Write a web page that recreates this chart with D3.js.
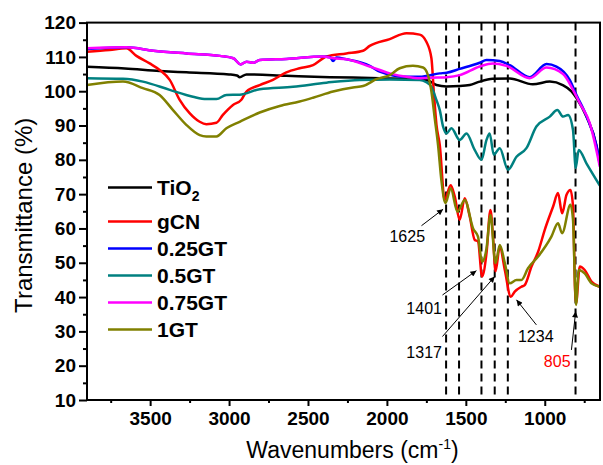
<!DOCTYPE html>
<html>
<head>
<meta charset="utf-8">
<script src="https://cdn.jsdelivr.net/npm/d3@7"></script>
<style>
  body { margin: 0; background: #fff; }
  svg { display: block; font-family: "Liberation Sans", Arial, sans-serif; }
</style>
</head>
<body>
<svg id="ftir_chart" width="603" height="465"></svg>
<script>
//  data : [wavenumber (cm-1), transmittance (%)]
const series_names = ["TiO2", "gCN", "0.25GT", "0.5GT", "0.75GT", "1GT"];
const series_colors = ["#000000", "#ff0000", "#0000ff", "#008080", "#ff00ff", "#808000"];

const tio2 = [[3900,107.1],[3660,106.6],[3440,105.9],[3270,105.5],[3000,104.9],[2950,104.6],[2933,104.1],[2890,104.9],[2637,104.5],
  [2360,104.1],[2046,103.8],[1750,103.3],[1686,101.8],[1623,101.4],[1539,101.5],[1475,101.8],[1412,102.8],[1330,103.6],[1222,103.7],
  [1076,102.0],[968,102.8],[886,101.8],[829,99.9],[799,98.0],[736,92.6],[672,84.0],[651,78.5]];

const gcn = [[3900,111.5],[3757,112.0],[3651,112.5],[3587,110.3],[3503,108.1],[3440,106.2],[3376,103.3],[3313,97.5],[3250,93.6],
  [3186,91.1],[3144,90.4],[3080,90.8],[3039,93.1],[2975,96.0],[2922,97.5],[2890,99.9],[2806,101.8],[2722,103.3],[2637,105.5],
  [2553,106.7],[2468,107.6],[2383,110.1],[2257,111.0],[2151,111.8],[2109,113.2],[1982,115.2],[1876,116.9],[1792,116.5],[1750,114.4],
  [1718,109.6],[1703,99.9],[1686,90.2],[1665,84.3],[1634,68.3],[1596,72.6],[1570,69.3],[1539,62.5],[1507,68.8],[1475,63.4],
  [1444,56.7],[1423,56.2],[1397,46.0],[1369,52.8],[1344,65.4],[1328,57.7],[1312,47.5],[1285,54.7],[1253,47.9],[1215,40.1],
  [1190,41.6],[1148,43.0],[1127,43.5],[1084,48.9],[1042,53.2],[1000,59.6],[947,66.4],[916,70.3],[890,64.4],[862,69.8],[837,71.2],
  [821,66.4],[808,42.1],[802,38.2],[778,48.9],[747,47.9],[704,44.5],[651,43.0]];

const gt025 = [[3900,112.3],[3649,112.8],[3480,111.8],[3269,111.0],[3058,110.3],[2973,109.6],[2927,107.8],[2889,108.6],[2846,108.3],
  [2806,109.1],[2637,109.4],[2405,110.1],[2360,109.9],[2341,108.8],[2320,109.8],[2257,109.3],[2109,107.4],[2046,105.7],[1876,104.2],
  [1792,104.2],[1665,105.2],[1621,105.4],[1539,106.5],[1412,108.3],[1369,109.1],[1285,108.8],[1222,107.6],[1095,104.1],[989,107.9],
  [926,107.2],[842,103.3],[799,98.9],[736,92.8],[672,84.0],[651,79.0]];

const gt05 = [[3900,103.8],[3672,103.6],[3546,102.8],[3376,100.4],[3229,98.4],[3144,97.7],[3080,97.7],[3017,98.9],[2933,99.0],
  [2806,100.6],[2595,101.3],[2383,102.5],[2172,103.3],[1982,103.4],[1792,103.3],[1750,102.6],[1718,101.3],[1686,97.4],[1665,94.5],
  [1644,89.7],[1623,87.7],[1591,89.2],[1539,85.8],[1496,87.7],[1444,82.9],[1401,80.0],[1369,85.8],[1349,87.7],[1323,81.5],
  [1285,83.4],[1233,77.1],[1179,80.9],[1116,83.4],[1053,89.7],[968,92.6],[920,94.5],[884,92.6],[852,93.1],[821,88.7],[804,77.6],
  [785,82.9],[736,79.0],[651,72.5]];

const gt075 = [[3900,112.5],[3649,112.8],[3480,111.8],[3269,111.0],[3058,110.3],[2973,109.6],[2927,107.8],[2889,108.6],[2846,108.3],
  [2806,109.1],[2637,109.4],[2405,110.1],[2341,109.6],[2257,109.3],[2109,107.2],[1982,105.2],[1876,104.2],[1792,103.8],[1665,104.0],
  [1623,104.1],[1539,104.7],[1412,107.2],[1330,108.1],[1243,107.4],[1095,103.8],[989,106.9],[884,105.0],[821,100.4],[778,96.5],
  [715,90.7],[651,78.0]];

const gt1 = [[3900,101.8],[3672,102.8],[3546,100.9],[3440,98.9],[3355,94.5],[3271,90.2],[3186,87.2],[3144,86.8],[3080,86.8],
  [3017,89.2],[2933,91.1],[2806,93.8],[2679,95.7],[2553,97.0],[2468,98.1],[2341,99.9],[2215,101.1],[2151,101.5],[2067,103.5],
  [1982,104.7],[1919,106.7],[1835,107.4],[1771,106.9],[1740,104.7],[1718,99.9],[1697,92.1],[1676,84.3],[1655,74.1],[1629,67.4],
  [1596,71.7],[1553,64.9],[1507,68.3],[1454,60.0],[1423,57.6],[1397,50.3],[1369,54.2],[1344,63.9],[1312,49.9],[1285,55.2],
  [1253,49.9],[1222,44.0],[1179,45.0],[1148,45.0],[1106,48.4],[1042,51.8],[958,57.6],[916,61.5],[890,58.6],[837,66.9],[821,62.5],
  [808,43.0],[802,37.7],[785,47.9],[747,46.9],[704,44.0],[651,43.0]];

const series_data = [tio2, gcn, gt025, gt05, gt075, gt1];

//  dashed marker lines and peak labels
const peak_lines = [1625, 1543, 1401, 1317, 1234, 805];
const peak_labels = ["1625", "1401", "1317", "1234", "805"];
const label_pos = [[1871,56.1],[1764,35.2],[1764,22.3],[1057,27.0],[921,19.6]];
const arrow_from = [[1781,60.8],[1648,40.6],[1648,28.5],[1053,31.9],[831,24.6]];
const arrow_to = [[1644,65.6],[1433,47.7],[1317,46.0],[1179,39.2],[804,35.8]];
const label_colors = ["#000", "#000", "#000", "#000", "#ff0000"];

const x_ticks = [3500, 3000, 2500, 2000, 1500, 1000];
const x_minor = [3750, 3250, 2750, 2250, 1750, 1250, 750];
const y_ticks = [10, 20, 30, 40, 50, 60, 70, 80, 90, 100, 110, 120];
const y_minor = [15, 25, 35, 45, 55, 65, 75, 85, 95, 105, 115];

//  draw
function draw_ftir_chart() {
  const margin = ({top: 22.6, right: 3, bottom: 65, left: 87});
  const svg = d3.select("#ftir_chart");
  svg.selectAll('*').remove();

  const w = 603, h = 465;
  const x = d3.scaleLinear().domain([3900, 650]).range([margin.left, w - margin.right]);
  const y = d3.scaleLinear().domain([10, 120]).range([h - margin.bottom, margin.top]);

  svg.append("defs").append("marker")
      .attr("id", "arrow_head")
      .attr("viewBox", "0 0 10 10")
      .attr("refX", 10).attr("refY", 5)
      .attr("markerWidth", 8).attr("markerHeight", 6)
      .attr("markerUnits", "userSpaceOnUse")
      .attr("orient", "auto")
    .append("path")
      .attr("d", "M0,0L10,5L0,10Z")
      .attr("fill", "#000");

  //  dashed lines
  svg.append("g").selectAll("line")
    .data(peak_lines)
    .join("line")
      .attr("x1", d => x(d)).attr("x2", d => x(d))
      .attr("y1", y(120)).attr("y2", y(10))
      .attr("stroke", "#000")
      .attr("stroke-width", 2)
      .attr("stroke-dasharray", "8,5");

  //  spectra
  const line = d3.line()
    .x(d => x(d[0]))
    .y(d => y(d[1]))
    .curve(d3.curveMonotoneX);

  svg.append("g").selectAll("path")
    .data(series_data)
    .join("path")
      .attr("fill", "none")
      .attr("stroke", (d, i) => series_colors[i])
      .attr("stroke-width", 2.5)
      .attr("stroke-linejoin", "round")
      .attr("d", line);

  //  frame
  svg.append("rect")
      .attr("x", x(3900)).attr("y", y(120))
      .attr("width", x(650) - x(3900)).attr("height", y(10) - y(120))
      .attr("fill", "none")
      .attr("stroke", "#000")
      .attr("stroke-width", 2);

  //  axes
  const xAxis = g => g
    .attr("transform", `translate(0,${y(10)})`)
    .call(d3.axisBottom(x).tickValues(x_ticks).tickSize(6).tickPadding(6).tickFormat(d3.format("d")));
  const xMinor = g => g
    .attr("transform", `translate(0,${y(10)})`)
    .call(d3.axisBottom(x).tickValues(x_minor).tickSize(3).tickFormat(""));
  const yAxis = g => g
    .attr("transform", `translate(${x(3900)},0)`)
    .call(d3.axisLeft(y).tickValues(y_ticks).tickSize(8).tickPadding(3));
  const yMinor = g => g
    .attr("transform", `translate(${x(3900)},0)`)
    .call(d3.axisLeft(y).tickValues(y_minor).tickSize(4).tickFormat(""));

  [xAxis, xMinor, yAxis, yMinor].forEach(ax => {
    const g = svg.append("g").call(ax);
    g.select(".domain").remove();
    g.selectAll(".tick line").attr("stroke", "#000").attr("stroke-width", 2);
    g.selectAll("text")
      .attr("fill", "#000")
      .style("font-family", "'Liberation Sans', Arial, sans-serif")
      .style("font-weight", "bold")
      .style("font-size", "19px");
  });

  //  axis titles
  svg.append("text")
      .attr("transform", `translate(32,${(y(120) + y(10)) / 2 + 4}) rotate(-90)`)
      .attr("text-anchor", "middle")
      .style("font-size", "24px")
      .text("Transmittance (%)");

  const xt = svg.append("text")
      .attr("x", (x(3900) + x(650)) / 2 + 9)
      .attr("y", 458)
      .attr("text-anchor", "middle")
      .style("font-size", "23px");
  xt.append("tspan").text("Wavenumbers (cm");
  xt.append("tspan").attr("dy", -9).style("font-size", "14px").text("-1");
  xt.append("tspan").attr("dy", 9).text(")");

  //  annotations
  const ann = svg.append("g");
  ann.selectAll("line")
    .data(arrow_from)
    .join("line")
      .attr("x1", d => x(d[0])).attr("y1", d => y(d[1]))
      .attr("x2", (d, i) => x(arrow_to[i][0])).attr("y2", (d, i) => y(arrow_to[i][1]))
      .attr("stroke", "#000")
      .attr("stroke-width", 1)
      .attr("marker-end", "url(#arrow_head)");
  ann.selectAll("text")
    .data(peak_labels)
    .join("text")
      .attr("x", (d, i) => x(label_pos[i][0]))
      .attr("y", (d, i) => y(label_pos[i][1]))
      .attr("text-anchor", "middle")
      .attr("fill", (d, i) => label_colors[i])
      .style("font-size", "16px")
      .text(d => d);

  //  legend
  const legend_y = [187.5, 221.5, 248.5, 275.5, 302.5, 329.5];
  const lg = svg.append("g").selectAll("g")
    .data(series_names)
    .join("g")
      .attr("transform", (d, i) => `translate(108,${legend_y[i]})`);
  lg.append("line")
      .attr("x1", 0).attr("x2", 44)
      .attr("stroke", (d, i) => series_colors[i])
      .attr("stroke-width", 2.5);
  const lt = lg.append("text")
      .attr("x", 49)
      .attr("y", 7.5)
      .style("font-size", "21px")
      .style("font-weight", "bold");
  lt.filter(d => d == "TiO2").each(function() {
    const t = d3.select(this);
    t.append("tspan").text("TiO");
    t.append("tspan").attr("dy", 6).style("font-size", "14px").text("2");
  });
  lt.filter(d => d != "TiO2").text(d => d);
}

//  main
draw_ftir_chart();
</script>
</body>
</html>
